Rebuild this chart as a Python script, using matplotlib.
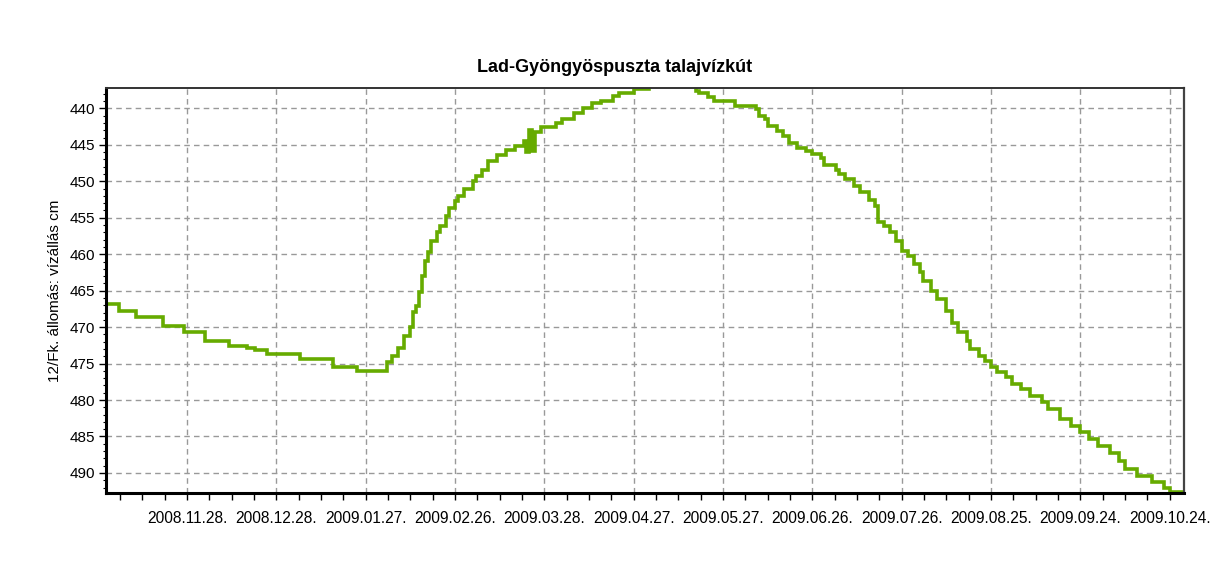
import matplotlib
matplotlib.use("Agg")
import matplotlib.pyplot as plt
import matplotlib.dates as mdates
import numpy as np
from matplotlib.ticker import FixedLocator, MultipleLocator

# groundwater level readings (cm below reference)
dates = ["2008-11-01", "2008-11-05", "2008-11-11", "2008-11-20", "2008-11-27",
         "2008-12-04", "2008-12-12", "2008-12-18", "2008-12-21", "2008-12-25",
         "2009-01-05", "2009-01-16", "2009-01-24", "2009-02-03", "2009-02-05",
         "2009-02-07", "2009-02-09", "2009-02-11", "2009-02-12", "2009-02-13",
         "2009-02-14", "2009-02-15", "2009-02-16", "2009-02-17", "2009-02-18",
         "2009-02-20", "2009-02-21", "2009-02-23", "2009-02-24", "2009-02-26",
         "2009-02-27", "2009-03-01", "2009-03-04", "2009-03-05", "2009-03-07",
         "2009-03-09", "2009-03-12", "2009-03-15", "2009-03-18", "2009-03-21",
         "2009-03-22", "2009-03-23", "2009-03-24", "2009-03-25", "2009-03-27",
         "2009-04-01", "2009-04-03", "2009-04-07", "2009-04-10", "2009-04-13",
         "2009-04-16", "2009-04-20", "2009-04-22", "2009-04-27", "2009-04-29",
         "2009-05-02", "2009-05-18", "2009-05-19", "2009-05-22", "2009-05-24",
         "2009-05-31", "2009-06-07", "2009-06-08", "2009-06-10", "2009-06-11",
         "2009-06-14", "2009-06-16", "2009-06-18", "2009-06-21", "2009-06-24",
         "2009-06-26", "2009-06-29", "2009-06-30", "2009-07-04", "2009-07-05",
         "2009-07-07", "2009-07-10", "2009-07-12", "2009-07-15", "2009-07-17",
         "2009-07-18", "2009-07-20", "2009-07-22", "2009-07-24", "2009-07-26",
         "2009-07-28", "2009-07-30", "2009-08-01", "2009-08-02", "2009-08-05",
         "2009-08-07", "2009-08-10", "2009-08-12", "2009-08-14", "2009-08-17",
         "2009-08-18", "2009-08-21", "2009-08-23", "2009-08-25", "2009-08-27",
         "2009-08-30", "2009-09-01", "2009-09-04", "2009-09-07", "2009-09-11",
         "2009-09-13", "2009-09-17", "2009-09-21", "2009-09-24", "2009-09-27",
         "2009-09-30", "2009-10-04", "2009-10-07", "2009-10-09", "2009-10-13",
         "2009-10-18", "2009-10-22", "2009-10-24", "2009-10-29"]
levels = [466.8, 467.8, 468.6, 469.8, 470.7,
          471.9, 472.6, 472.9, 473.2, 473.7,
          474.4, 475.5, 476.0, 474.8, 473.9,
          472.8, 471.2, 470.0, 467.9, 467.1,
          465.2, 463.0, 460.9, 459.7, 458.2,
          457.0, 456.1, 454.8, 453.6, 452.7,
          452.0, 451.1, 450.0, 449.3, 448.4,
          447.2, 446.4, 445.7, 445.2, 444.5,
          446.0, 443.0, 445.8, 443.3, 442.6,
          442.0, 441.5, 440.6, 439.9, 439.3,
          439.0, 438.3, 437.9, 437.4, 437.3,
          436.6, 437.6, 437.9, 438.5, 439.0,
          439.7, 440.1, 441.0, 441.5, 442.4,
          443.1, 443.8, 444.7, 445.4, 445.8,
          446.3, 446.8, 447.7, 448.4, 449.0,
          449.7, 450.6, 451.5, 452.5, 453.4,
          455.6, 456.1, 457.0, 458.2, 459.5,
          460.2, 461.4, 462.5, 463.7, 465.0,
          466.2, 467.8, 469.4, 470.7, 471.9,
          473.0, 473.9, 474.6, 475.5, 476.2,
          476.9, 477.8, 478.5, 479.4, 480.3,
          481.2, 482.6, 483.5, 484.4, 485.3,
          486.3, 487.2, 488.3, 489.5, 490.4,
          491.3, 492.0, 492.6, 492.9]

tick_dates = ["2008-11-28", "2008-12-28", "2009-01-27", "2009-02-26", "2009-03-28",
              "2009-04-27", "2009-05-27", "2009-06-26", "2009-07-26", "2009-08-25",
              "2009-09-24", "2009-10-24"]
y_ticks = [440, 445, 450, 455, 460, 465, 470, 475, 480, 485, 490]

plt.rcParams["font.family"] = ["Liberation Sans", "DejaVu Sans"]

fig = plt.figure(figsize=(12.16, 5.67), dpi=100)
ax = fig.add_axes([106 / 1216, 1 - 493 / 567, (1184 - 106) / 1216, (493 - 88) / 567])

x = mdates.datestr2num(dates)
ax.step(x, levels, where="post", color="#66ab00", lw=2.6, solid_joinstyle="miter")

major = mdates.datestr2num(tick_dates)
ax.xaxis.set_major_locator(FixedLocator(major))
ax.xaxis.set_minor_locator(FixedLocator(np.arange(major[0] - 30, major[-1] + 10, 7.5)))
ax.xaxis.set_major_formatter(mdates.DateFormatter("%Y.%m.%d."))
ax.set_xlim(major[0] - 27.2, major[-1] + 4.8)

ax.set_yticks(y_ticks)
ax.yaxis.set_minor_locator(MultipleLocator(1))
ax.set_ylim(492.75, 437.2)

ax.grid(True, which="major", color="#999999", ls=(0, (4, 3)), lw=1)
ax.tick_params(axis="x", which="both", direction="out", length=5, width=1,
               labelsize=11.2, pad=8)
ax.tick_params(axis="y", which="major", direction="out", length=5, width=1,
               labelsize=11, pad=3)
ax.tick_params(axis="y", which="minor", direction="out", length=2, width=0.8)

for side in ["left", "bottom"]:
    ax.spines[side].set_linewidth(2.2)
    ax.spines[side].set_color("black")
ax.spines["top"].set_linewidth(1.4)
ax.spines["top"].set_color("#333333")
ax.spines["right"].set_linewidth(1.6)
ax.spines["right"].set_color("#444444")

ax.set_ylabel("12/Fk. állomás: vízállás cm", fontsize=11, labelpad=5)
fig.text(615 / 1216, 1 - 68 / 567, "Lad-Gyöngyöspuszta talajvízkút",
         ha="center", va="center", fontsize=13, fontweight="bold")

fig.savefig("out.png", dpi=100, facecolor="white")
